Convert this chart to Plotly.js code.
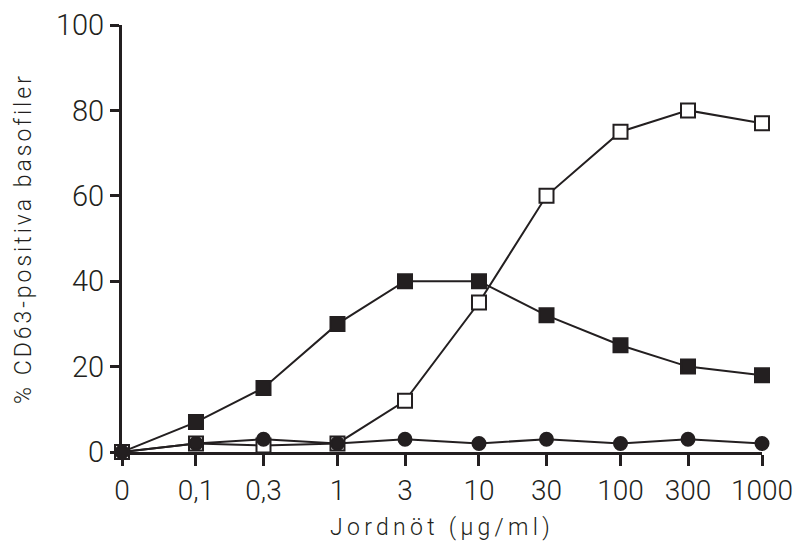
<!DOCTYPE html>
<html><head><meta charset="utf-8">
<script src="https://cdn.plot.ly/plotly-3.0.1.min.js"></script>
<style>
html,body{margin:0;padding:0;background:#fff}
#chart{width:795px;height:547px}
#chart .xtitle{letter-spacing:4.3px}
#chart .ytitle{letter-spacing:3px}
</style>
</head><body><div id="chart"></div>
<script>
// Concentrations (µg/ml); 0 is drawn at the left end of the log axis
const concentrations = [0, 0.1, 0.3, 1, 3, 10, 30, 100, 300, 1000];
const tickLabels = ["0", "0,1", "0,3", "1", "3", "10", "30", "100", "300", "1000"];
const filledSquares = [0, 7, 15, 30, 40, 40, 32, 25, 20, 18];
const openSquares = [0, 2, 1.5, 2, 12, 35, 60, 75, 80, 77];
const filledCircles = [0, 2, 3, 2, 3, 2, 3, 2, 3, 2];
const yTicks = [0, 20, 40, 60, 80, 100];

const zeroPos = 0.03;
const xs = concentrations.map(c => c === 0 ? zeroPos : c);
const ink = '#231f20';
const font = 'Roboto, "DejaVu Sans Condensed", sans-serif';

function trace(y, symbol, fill, size) {
  return {
    x: xs, y: y, type: 'scatter', mode: 'lines+markers', cliponaxis: false,
    line: {color: ink, width: 2},
    marker: {symbol: symbol, size: size, color: fill, line: {color: ink, width: 2}}
  };
}

const data = [
  trace(filledSquares, 'square', ink, 14),
  trace(openSquares, 'square', '#ffffff', 14),
  trace(filledCircles, 'circle', ink, 13)
];

const layout = {
  width: 795, height: 547,
  margin: {l: 122, r: 33, t: 25, b: 95},
  paper_bgcolor: '#fff', plot_bgcolor: '#fff',
  showlegend: false,
  font: {family: font, color: ink},
  xaxis: {
    type: 'log', range: [Math.log10(zeroPos), 3],
    tickvals: xs, ticktext: tickLabels,
    ticks: 'outside', ticklen: 11, tickwidth: 3, tickcolor: ink,
    showline: true, linewidth: 3, linecolor: ink,
    showgrid: false, zeroline: false,
    tickfont: {family: font, size: 28, color: ink, weight: 300},
    title: {text: 'Jordnöt (µg/ml)', standoff: 14, font: {family: font, size: 23, color: ink, weight: 300}}
  },
  yaxis: {
    range: [0, 100], tickvals: yTicks,
    ticks: 'outside', ticklen: 9, tickwidth: 3, tickcolor: ink,
    showline: true, linewidth: 3, linecolor: ink,
    showgrid: false, zeroline: false,
    tickfont: {family: font, size: 29, color: ink, weight: 300},
    title: {text: '% CD63-positiva basofiler', standoff: 18, font: {family: font, size: 23, color: ink, weight: 300}}
  }
};

Plotly.newPlot('chart', data, layout, {displayModeBar: false, staticPlot: true});
</script></body></html>
